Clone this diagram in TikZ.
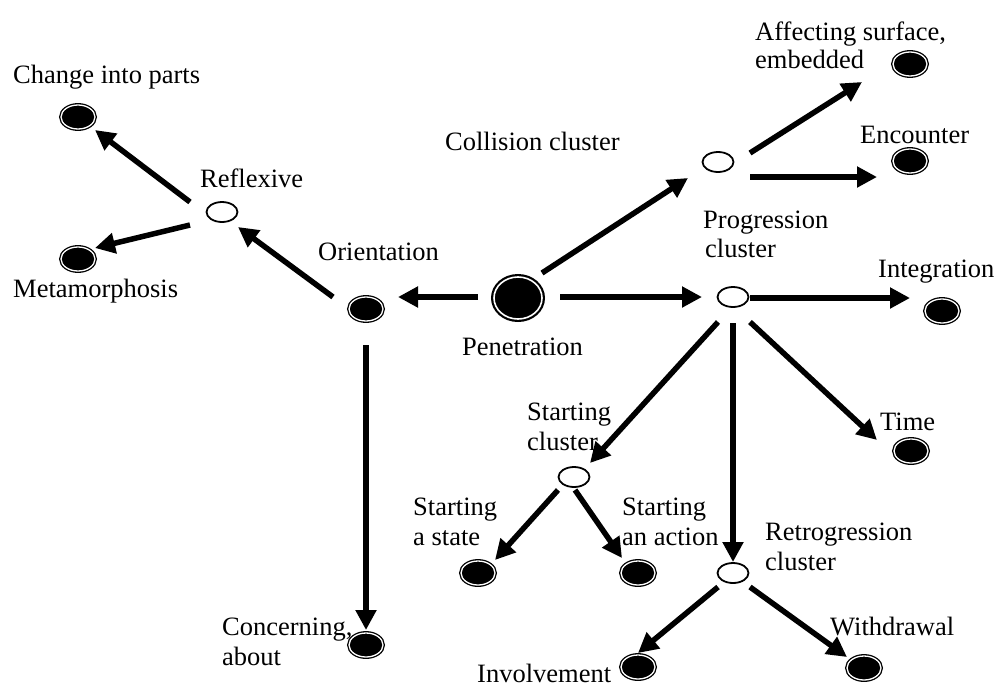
\documentclass[tikz,border=0pt]{standalone}
\usepackage{fontspec}
\setmainfont{Liberation Serif}
\usetikzlibrary{arrows.meta,shapes.geometric}
\begin{document}
\begin{tikzpicture}[x=1pt,y=-1pt,
  lbl/.style={inner sep=0pt, anchor=base west, font=\fontsize{26.5}{30}\selectfont},
  leaf/.style={ellipse, draw=black, fill=black, line width=1.3pt, double=white, double distance=1.3pt, minimum width=34pt, minimum height=24pt, inner sep=0pt},
  hub/.style={ellipse, draw=black, fill=white, line width=1.8pt, minimum width=31pt, minimum height=20pt, inner sep=0pt},
  root/.style={ellipse, draw=black, fill=black, line width=2.2pt, double=white, double distance=1.6pt, minimum width=48pt, minimum height=42pt, inner sep=0pt},
  arr/.style={line width=5.5pt, -{Triangle[length=20pt,width=20pt]}}]
\fill[white] (0,0) rectangle (998,686);
\useasboundingbox (0,0) rectangle (998,686);

% nodes
\node[leaf] (cp) at (78,117) {};
\node[leaf] (meta) at (78,259) {};
\node[hub] (refl) at (222,212) {};
\node[leaf] (ori) at (366,309) {};
\node[leaf] (conc) at (366,645) {};
\node[root] (pen) at (518,298) {};
\node[hub] (col) at (718,162) {};
\node[leaf] (aff) at (910,64) {};
\node[leaf] (enc) at (910,161) {};
\node[hub] (prog) at (733,297) {};
\node[leaf] (integ) at (942,311) {};
\node[leaf] (time) at (911,451) {};
\node[hub] (startc) at (574,477) {};
\node[leaf] (sstate) at (478,573) {};
\node[leaf] (saction) at (638,573) {};
\node[hub] (retro) at (733,573) {};
\node[leaf] (invol) at (638,667) {};
\node[leaf] (withd) at (864,668) {};

% labels
\node[lbl] (tcp) at (13,83) {Change into parts};
\node[lbl] (trefl) at (200,187) {Reflexive};
\node[lbl] (tmeta) at (13,297) {Metamorphosis};
\node[lbl] (tori) at (318,260) {Orientation};
\node[lbl] (tpen) at (462,355) {Penetration};
\node[lbl] (tcol) at (445,150) {Collision cluster};
\node[lbl] (taff1) at (755,40) {Affecting surface,};
\node[lbl] (taff2) at (755,68) {embedded};
\node[lbl] (tenc) at (860,143) {Encounter};
\node[lbl] (tprog1) at (703,228) {Progression};
\node[lbl] (tprog2) at (705,257) {cluster};
\node[lbl] (tint) at (878,277) {Integration};
\node[lbl] (ttime) at (880,430) {Time};
\node[lbl] (tsc1) at (527,420) {Starting};
\node[lbl] (tsc2) at (527,450) {cluster};
\node[lbl] (tss1) at (413,515) {Starting};
\node[lbl] (tss2) at (413,545) {a state};
\node[lbl] (tsa1) at (622,515) {Starting};
\node[lbl] (tsa2) at (622,545) {an action};
\node[lbl] (tret1) at (765,540) {Retrogression};
\node[lbl] (tret2) at (765,570) {cluster};
\node[lbl] (twd) at (830,635) {Withdrawal};
\node[lbl] (tinv) at (477,682) {Involvement};
\node[lbl] (tcon1) at (222,635) {Concerning,};
\node[lbl] (tcon2) at (222,665) {about};

% connectors
\draw[arr] ([shift={(-32,-10)}]refl.center) -- ([shift={(17,13)}]cp.center);
\draw[arr] ([shift={(-32,13)}]refl.center) -- ([shift={(17,-11)}]meta.center);
\draw[arr] ([shift={(-33,-12)}]ori.center) -- ([shift={(16,15)}]refl.center);
\draw[arr] ([shift={(-40,-1)}]pen.center) -- ([shift={(32,-12)}]ori.center);
\draw[arr] ([shift={(0,36)}]ori.center) -- ([shift={(0,-15)}]conc.center);
\draw[arr] ([shift={(24,-25)}]pen.center) -- ([shift={(-30,16)}]col.center);
\draw[arr] ([shift={(42,-1)}]pen.center) -- ([shift={(-31,0)}]prog.center);
\draw[arr] ([shift={(32,-9)}]col.center) -- ([shift={(-48,18)}]aff.center);
\draw[arr] ([shift={(32,15)}]col.center) -- ([shift={(-33,16)}]enc.center);
\draw[arr] ([shift={(17,1)}]prog.center) -- ([shift={(-32,-13)}]integ.center);
\draw[arr] ([shift={(17,25)}]prog.center) -- ([shift={(-34,-11)}]time.center);
\draw[arr] ([shift={(0,26)}]prog.center) -- ([shift={(0,-11)}]retro.center);
\draw[arr] ([shift={(-15,25)}]prog.center) -- ([shift={(16,-14)}]startc.center);
\draw[arr] ([shift={(-16,13)}]startc.center) -- ([shift={(17,-13)}]sstate.center);
\draw[arr] ([shift={(1,13)}]startc.center) -- ([shift={(-16,-15)}]saction.center);
\draw[arr] ([shift={(-15,14)}]retro.center) -- ([shift={(0,-14)}]invol.center);
\draw[arr] ([shift={(17,14)}]retro.center) -- ([shift={(-17,-11)}]withd.center);
\end{tikzpicture}
\end{document}
